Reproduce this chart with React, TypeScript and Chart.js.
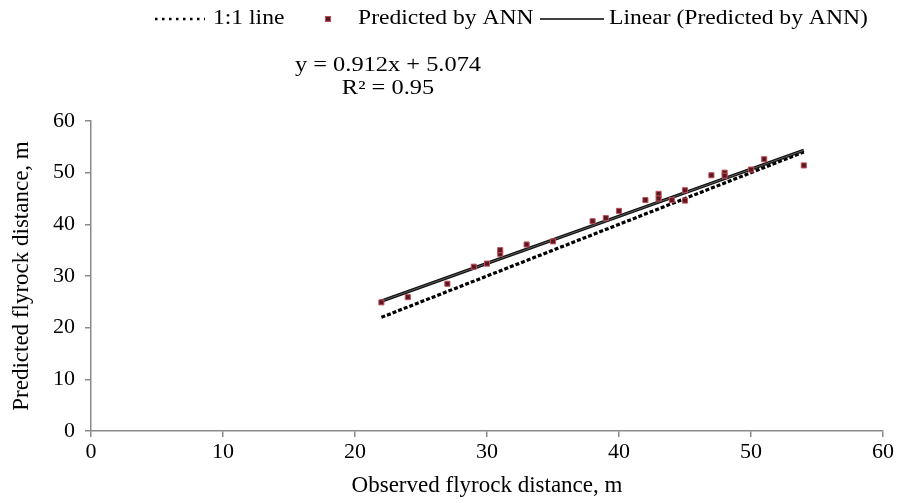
import React, { useEffect, useRef } from "react";
import { Chart, registerables } from "chart.js";

Chart.register(...registerables);

// Observed vs. ANN-predicted flyrock distance (m)
const observed = [22, 24, 27, 29, 30, 31, 31, 33, 35, 38, 39, 40, 42, 43, 43, 44, 45, 45, 47, 48, 48, 50, 51, 54];
const predicted = [24.9, 25.9, 28.5, 31.8, 32.4, 34.3, 35.0, 36.1, 36.7, 40.6, 41.2, 42.6, 44.7, 45.9, 45.0, 44.7, 46.6, 44.6, 49.5, 50.0, 49.4, 50.6, 52.6, 51.4];

// 1:1 reference line and fitted linear trend
const lineRange = [22, 54];
const trendSlope = 0.912;
const trendIntercept = 5.074;
const rSquared = 0.95;

const axisMin = 0;
const axisMax = 60;
const axisStep = 10;

const legendLabels = ["1:1 line", "Predicted by ANN", "Linear (Predicted by ANN)"];
const xTitle = "Observed flyrock distance, m";
const yTitle = "Predicted flyrock distance, m";

const SERIF = '"Liberation Serif", "Times New Roman", serif';
const MARKER_FILL = "#5a1820";
const MARKER_EDGE = "#c2505c";

// Draws the legend row and the regression equation above the plot
const annotations = {
  id: "annotations",
  afterDraw(chart: any) {
    const ctx: CanvasRenderingContext2D = chart.ctx;
    const text = (s: string, x: number, y: number, stretch: number, align: CanvasTextAlign = "left") => {
      ctx.save();
      ctx.translate(x, y);
      ctx.scale(stretch, 1);
      ctx.font = `20px ${SERIF}`;
      ctx.textBaseline = "middle";
      ctx.textAlign = align;
      ctx.fillStyle = "#000";
      ctx.fillText(s, 0, 0);
      ctx.restore();
    };
    const ly = 19;
    ctx.save();
    // dotted sample
    ctx.strokeStyle = "#000";
    ctx.lineWidth = 2.5;
    ctx.setLineDash([2.5, 4.5]);
    ctx.beginPath();
    ctx.moveTo(155, ly);
    ctx.lineTo(205, ly);
    ctx.stroke();
    ctx.setLineDash([]);
    text(legendLabels[0], 213, ly, 1.18);
    // marker sample
    ctx.fillStyle = MARKER_FILL;
    ctx.strokeStyle = MARKER_EDGE;
    ctx.lineWidth = 1;
    ctx.fillRect(326, ly - 2, 4, 4);
    ctx.strokeRect(325.5, ly - 2.5, 5, 5);
    text(legendLabels[1], 358, ly, 1.18);
    // solid line sample
    ctx.strokeStyle = "#000";
    ctx.lineWidth = 1.5;
    ctx.beginPath();
    ctx.moveTo(540, ly);
    ctx.lineTo(604, ly);
    ctx.stroke();
    text(legendLabels[2], 609, ly, 1.18);
    ctx.restore();

    // regression equation
    const sign = trendIntercept >= 0 ? "+" : "-";
    text(`y = ${trendSlope.toFixed(3)}x ${sign} ${Math.abs(trendIntercept).toFixed(3)}`, 388, 66, 1.22, "center");
    text(`R\u00B2 = ${rSquared.toFixed(2)}`, 388, 89, 1.22, "center");
  },
};

export default function App() {
  const canvasRef = useRef<HTMLCanvasElement | null>(null);

  useEffect(() => {
    const canvas = canvasRef.current;
    if (!canvas) return;

    const points = observed.map((x, i) => ({ x, y: predicted[i] }));
    const oneToOne = lineRange.map((v) => ({ x: v, y: v }));
    const trend = lineRange.map((v) => ({ x: v, y: trendSlope * v + trendIntercept }));

    const axisCommon = {
      type: "linear" as const,
      min: axisMin,
      max: axisMax,
      grid: {
        display: true,
        drawOnChartArea: false,
        drawTicks: true,
        tickLength: 6,
        color: "#8a8a8a",
        lineWidth: 1.5,
      },
      border: { display: true, color: "#8a8a8a", width: 1.5 },
    };

    const chart = new Chart(canvas, {
      type: "scatter",
      data: {
        datasets: [
          {
            type: "line",
            label: legendLabels[0],
            data: oneToOne,
            borderColor: "#000",
            borderWidth: 3.2,
            borderDash: [4, 2],
            pointRadius: 0,
            fill: false,
            order: 3,
          },
          {
            type: "line",
            label: legendLabels[2],
            data: trend,
            borderColor: "#111",
            borderWidth: 3.2,
            pointRadius: 0,
            fill: false,
            order: 2,
          },
          {
            type: "line",
            label: "trend core",
            data: trend,
            borderColor: "#707070",
            borderWidth: 0.8,
            pointRadius: 0,
            fill: false,
            order: 1,
          },
          {
            type: "scatter",
            label: legendLabels[1],
            data: points,
            pointStyle: "rect",
            pointRadius: 3.6,
            backgroundColor: MARKER_FILL,
            borderColor: MARKER_EDGE,
            borderWidth: 1,
            order: 0,
          },
        ],
      },
      options: {
        animation: false,
        responsive: false,
        maintainAspectRatio: false,
        layout: { padding: { top: 121, right: 24, bottom: 0, left: 0 } },
        plugins: {
          legend: { display: false },
          tooltip: { enabled: false },
          title: { display: false },
        },
        scales: {
          x: {
            ...axisCommon,
            position: "bottom",
            afterFit: (scale: any) => {
              scale.height = 72;
            },
            ticks: {
              stepSize: axisStep,
              padding: 2,
              color: "#000",
              font: { family: SERIF, size: 22 },
              maxRotation: 0,
            },
            title: {
              display: true,
              text: xTitle,
              color: "#000",
              font: { family: SERIF, size: 23 },
              padding: { top: 0, bottom: 3 },
            },
          },
          y: {
            ...axisCommon,
            position: "left",
            afterFit: (scale: any) => {
              scale.width = 91;
            },
            ticks: {
              stepSize: axisStep,
              padding: 10,
              color: "#000",
              font: { family: SERIF, size: 22 },
            },
            title: {
              display: true,
              text: yTitle,
              color: "#000",
              font: { family: SERIF, size: 23 },
              padding: { top: 8, bottom: 0 },
            },
          },
        },
      },
      plugins: [annotations],
    });

    return () => chart.destroy();
  }, []);

  return (
    <div style={{ position: "absolute", left: 0, top: 0, width: 907, height: 503, background: "#fff" }}>
      <canvas ref={canvasRef} width={907} height={503} style={{ width: 907, height: 503, display: "block" }} />
    </div>
  );
}
